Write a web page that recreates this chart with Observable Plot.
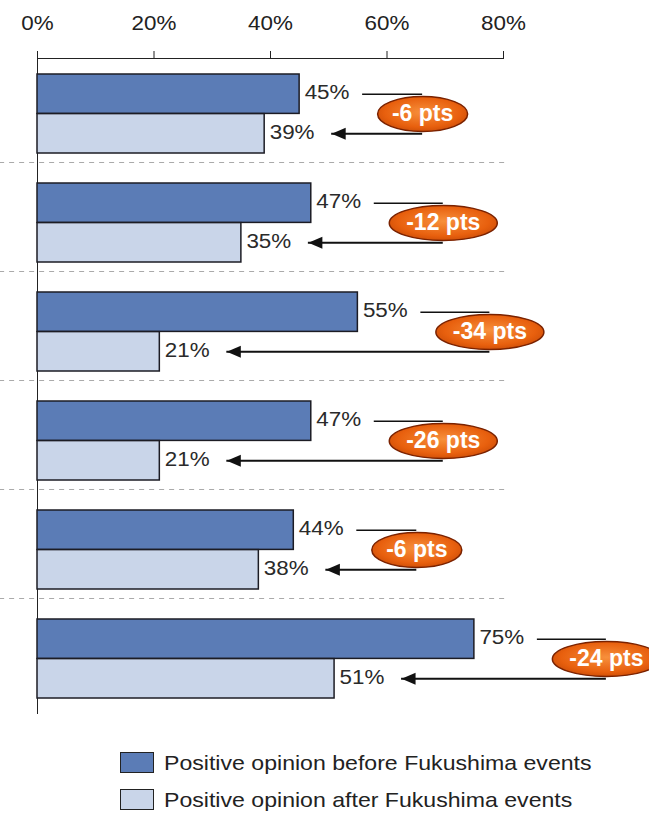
<!DOCTYPE html>
<html>
<head>
<meta charset="utf-8">
<script src="https://cdn.jsdelivr.net/npm/d3@7"></script>
<script src="https://cdn.jsdelivr.net/npm/@observablehq/plot@0.6"></script>
<style>
  body { margin: 0; background: #ffffff; font-family: "Liberation Sans", Arial, sans-serif; }
  #chart { width: 649px; }
  .legend { margin: 9px 0 0 120px; }
  .legend .row { display: flex; align-items: center; height: 37px; font-size: 21px; color: #222; }
  .legend .sw { width: 34px; height: 21px; border: 1.5px solid #222; margin-right: 10px; box-sizing: border-box; flex: none; }
  .legend .txt { display: inline-block; transform: scaleX(1.1); transform-origin: left center; white-space: nowrap; }
</style>
</head>
<body>
<div id="chart"></div>
<script>
// ---- data ----
const groups = ["Group 1", "Group 2", "Group 3", "Group 4", "Group 5", "Group 6"];
const beforeValues = [45, 47, 55, 47, 44, 75];
const afterValues = [39, 35, 21, 21, 38, 51];
const changeLabels = ["-6 pts", "-12 pts", "-34 pts", "-26 pts", "-6 pts", "-24 pts"];
const xTicks = [0, 20, 40, 60, 80];
const seriesNames = ["Positive opinion before Fukushima events", "Positive opinion after Fukushima events"];
const seriesColors = ["#5b7cb6", "#c9d5e9"];

const data = groups.map((g, i) => ({
  group: g,
  before: beforeValues[i],
  after: afterValues[i],
  label: changeLabels[i]
}));

// annotation geometry (in % units of the x scale)
const pxPerPct = (649 - 37 - 146) / 80;
const ellipseRx = d => d.label.length > 6 ? 54 : 45;
const bracketX = d => d.before + (78 + ellipseRx(d)) / pxPerPct;
const lineStart = d => d.before + 63 / pxPerPct;
const arrowTip = d => d.after + 67 / pxPerPct;

const half = 19.75;

const ellipseSymbol = {
  draw(ctx, size) {
    const rx = Math.sqrt(size / Math.PI), ry = 17.5, k = 0.5523;
    ctx.moveTo(rx, 0);
    ctx.bezierCurveTo(rx, ry * k, rx * k, ry, 0, ry);
    ctx.bezierCurveTo(-rx * k, ry, -rx, ry * k, -rx, 0);
    ctx.bezierCurveTo(-rx, -ry * k, -rx * k, -ry, 0, -ry);
    ctx.bezierCurveTo(rx * k, -ry, rx, -ry * k, rx, 0);
    ctx.closePath();
  }
};
const arrowHead = {
  draw(ctx) {
    ctx.moveTo(0, 0);
    ctx.lineTo(14, -6);
    ctx.lineTo(14, 6);
    ctx.closePath();
  }
};

const plot = Plot.plot({
  width: 649,
  height: 735,
  marginTop: 58,
  marginBottom: 22,
  marginLeft: 37,
  marginRight: 146,
  style: { fontFamily: "Liberation Sans, Arial, sans-serif", fontSize: "20px", color: "#222", background: "transparent", overflow: "visible" },
  x: {
    domain: [0, 80],
    axis: "top",
    ticks: xTicks,
    tickFormat: d => d + "%",
    tickSize: 8,
    tickPadding: 21,
    line: true,
    label: null
  },
  y: {
    domain: groups,
    padding: 0,
    axis: "left",
    line: true,
    tickSize: 0,
    tickFormat: () => "",
    label: null
  },
  r: { type: "identity" },
  marks: [
    Plot.ruleY(data.slice(0, 5), {
      y: "group", dy: 48.5, x1: -6.5, x2: 81,
      stroke: "#aaa", strokeWidth: 1, strokeDasharray: "5,5"
    }),
    Plot.barX(data, {
      x: "before", y: "group", insetTop: 15, insetBottom: 54.6,
      fill: seriesColors[0], stroke: "#1c1c24", strokeWidth: 1.5
    }),
    Plot.barX(data, {
      x: "after", y: "group", insetTop: 54.6, insetBottom: 15,
      fill: seriesColors[1], stroke: "#1c1c24", strokeWidth: 1.5
    }),
    Plot.text(data, {
      x: "before", y: "group", dy: -half - 1.5, dx: 5, text: d => d.before + "%",
      textAnchor: "start", fontSize: 20, fill: "#2a2a2a"
    }),
    Plot.text(data, {
      x: "after", y: "group", dy: half - 1, dx: 5, text: d => d.after + "%",
      textAnchor: "start", fontSize: 20, fill: "#2a2a2a"
    }),
    Plot.ruleY(data, {
      y: "group", dy: -half, x1: lineStart, x2: bracketX,
      stroke: "#111", strokeWidth: 1.5
    }),
    Plot.ruleY(data, {
      y: "group", dy: half, x1: arrowTip, x2: bracketX,
      stroke: "#111", strokeWidth: 2.2
    }),
    Plot.dot(data, {
      x: arrowTip, y: "group", dy: half, symbol: arrowHead, r: 6,
      fill: "#111", stroke: "none"
    }),
    Plot.dot(data, {
      x: bracketX, y: "group", r: ellipseRx, symbol: ellipseSymbol,
      fill: "url(#ellipseGrad)", stroke: "#7a2200", strokeWidth: 1.5
    }),
    Plot.text(data, {
      x: bracketX, y: "group", text: "label",
      fill: "#ffffff", fontWeight: "bold", fontSize: 23,
      fontFamily: "Liberation Sans Narrow, Liberation Sans, Arial, sans-serif"
    })
  ]
});

document.getElementById("chart").appendChild(plot);

// gradient for the change ellipses
const svg = d3.select(plot);
const defs = svg.insert("defs", ":first-child");
const grad = defs.append("radialGradient").attr("id", "ellipseGrad")
  .attr("cx", "50%").attr("cy", "45%").attr("r", "60%");
grad.append("stop").attr("offset", "0%").attr("stop-color", "#f7903c");
grad.append("stop").attr("offset", "70%").attr("stop-color", "#e8600e");
grad.append("stop").attr("offset", "100%").attr("stop-color", "#c84a06");

// the reference typeface is slightly wider than Liberation Sans: stretch plain labels
svg.selectAll("text").each(function () {
  const t = d3.select(this);
  if (/pts$/.test(this.textContent)) return;
  const len = this.getComputedTextLength();
  if (len > 0) t.attr("textLength", len * 1.12).attr("lengthAdjust", "spacingAndGlyphs");
});

const legend = d3.select("body").append("div").attr("class", "legend");
seriesNames.forEach((name, i) => {
  const row = legend.append("div").attr("class", "row");
  row.append("div").attr("class", "sw").style("background", seriesColors[i]);
  row.append("span").attr("class", "txt").text(name);
});
</script>
</body>
</html>
